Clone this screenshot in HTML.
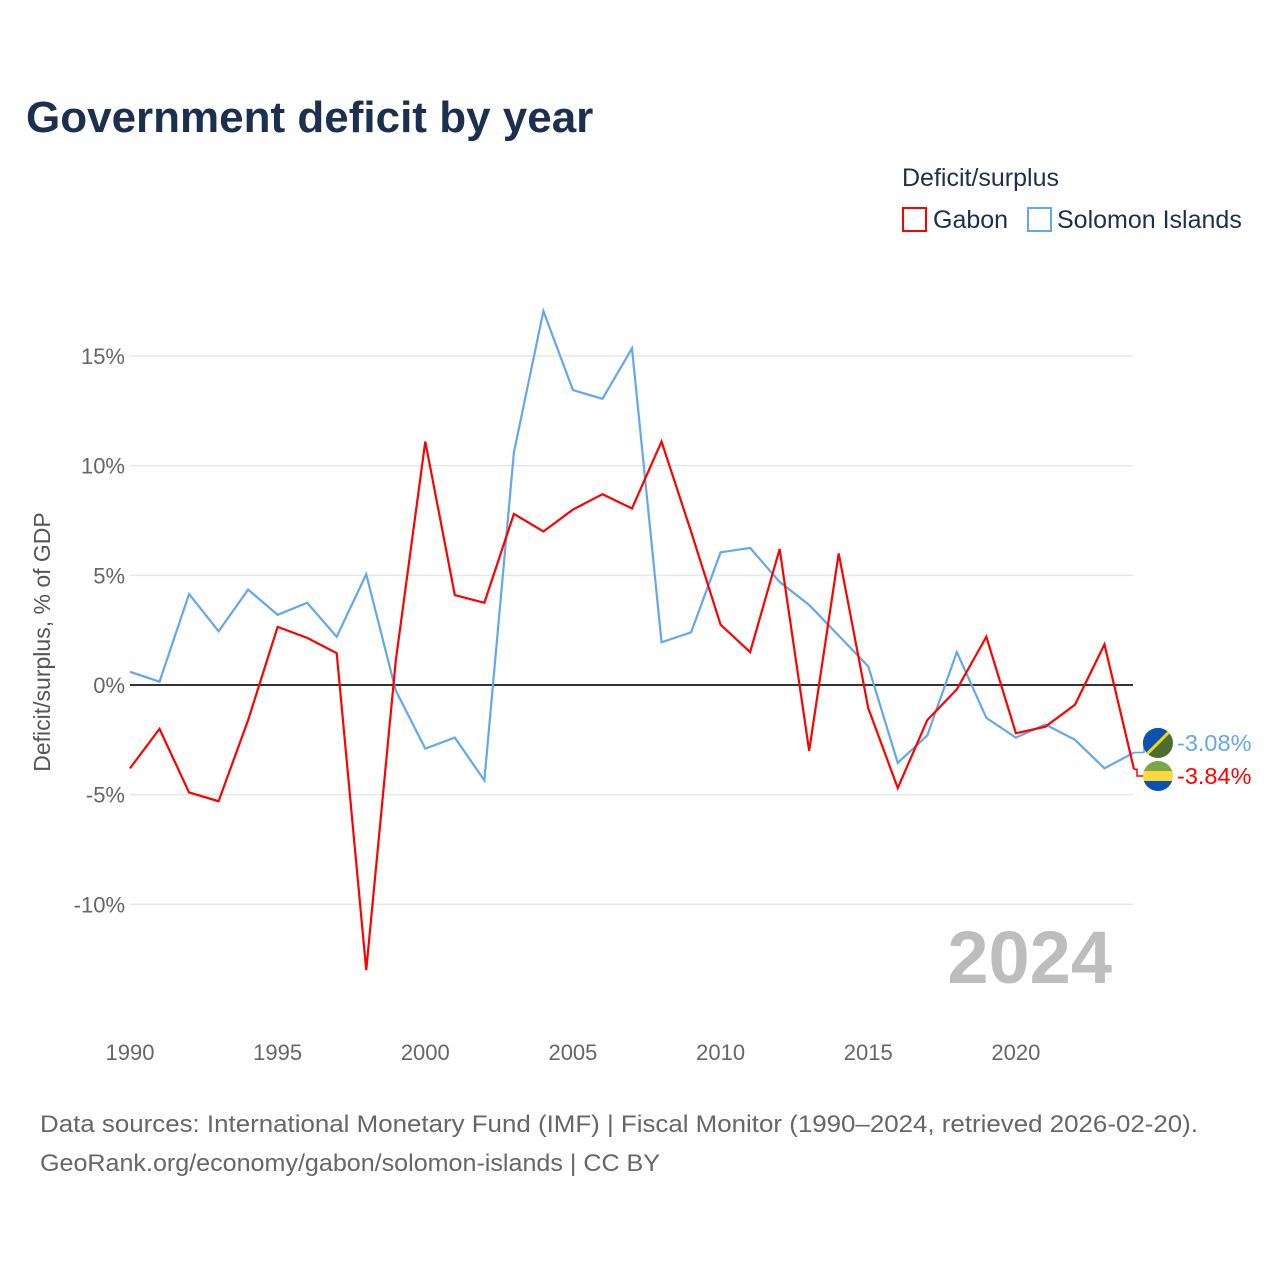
<!DOCTYPE html>
<html><head><meta charset="utf-8"><style>
body{margin:0;background:#fff;font-family:"Liberation Sans",sans-serif;}
#wrap{position:relative;width:1280px;height:1280px;overflow:hidden;}
</style></head><body>
<div id="wrap">
<svg id="chart" width="1280" height="1280" xmlns="http://www.w3.org/2000/svg">
<text x="26" y="132" font-size="44" font-weight="bold" fill="#1b2f4e">Government deficit by year</text>
<text x="902" y="186" font-size="25" fill="#1b2f4e">Deficit/surplus</text>
<g><rect x="903" y="208" width="23" height="23" fill="none" stroke="#ff0000" stroke-width="2"/><text x="933" y="228" font-size="25" fill="#1b2f4e">Gabon</text></g>
<g><rect x="1028" y="208" width="23" height="23" fill="none" stroke="#62a8ea" stroke-width="2"/><text x="1057" y="228" font-size="25" fill="#1b2f4e">Solomon Islands</text></g>
<g id="grid"></g>
<g id="xaxis"></g>
<g id="yaxis"></g>
<text x="1112" y="983" font-size="74" font-weight="bold" fill="#bdbdbd" text-anchor="end">2024</text>
<text transform="translate(50,642) rotate(-90)" font-size="23" fill="#555" text-anchor="middle">Deficit/surplus, % of GDP</text>
<g id="series"></g>
<text x="40" y="1132" font-size="24" fill="#666" textLength="1158" lengthAdjust="spacingAndGlyphs">Data sources: International Monetary Fund (IMF) | Fiscal Monitor (1990–2024, retrieved 2026-02-20).</text>
<text x="40" y="1171" font-size="24" fill="#666" textLength="620" lengthAdjust="spacingAndGlyphs">GeoRank.org/economy/gabon/solomon-islands | CC BY</text>
</svg>
</div>
<script>
const years=[1990,1991,1992,1993,1994,1995,1996,1997,1998,1999,2000,2001,2002,2003,2004,2005,2006,2007,2008,2009,2010,2011,2012,2013,2014,2015,2016,2017,2018,2019,2020,2021,2022,2023,2024];
const gabon=[-3.8,-2.0,-4.9,-5.3,-1.6,2.65,2.15,1.45,-13.0,1.1,11.1,4.1,3.75,7.8,7.0,8.0,8.7,8.05,11.1,7.0,2.75,1.5,6.2,-3.0,6.0,-1.05,-4.7,-1.6,-0.2,2.2,-2.2,-1.9,-0.9,1.85,-3.84];
const solomon=[0.6,0.15,4.15,2.45,4.35,3.2,3.75,2.2,5.05,-0.25,-2.9,-2.4,-4.35,10.6,17.05,13.45,13.05,15.35,1.95,2.4,6.05,6.25,4.7,3.65,2.25,0.85,-3.55,-2.3,1.5,-1.5,-2.4,-1.8,-2.5,-3.8,-3.08];
const yTicks=[-10,-5,0,5,10,15];
const xTicks=[1990,1995,2000,2005,2010,2015,2020];
const NS="http://www.w3.org/2000/svg";
const X=v=>130+(v-1990)*(1004/34);
const Y=v=>685-v*21.93;
function mk(tag,attrs,parent){const e=document.createElementNS(NS,tag);for(const k in attrs)e.setAttribute(k,attrs[k]);parent.appendChild(e);return e;}
const grid=document.getElementById('grid'),ya=document.getElementById('yaxis'),xa=document.getElementById('xaxis'),ser=document.getElementById('series');
yTicks.forEach(t=>{
  const l=mk('line',{x1:130,x2:1133,y1:Y(t),y2:Y(t),stroke:t===0?'#333':'#e8e8e8','stroke-width':t===0?2:1.5},grid);
  
  
  const tx=mk('text',{x:125,y:Y(t)+8,'font-size':22,fill:'#666','text-anchor':'end'},ya);
  tx.textContent=t+'%';
  
  
});
xTicks.forEach(t=>{
  const tx=mk('text',{x:X(t),y:1060,'font-size':22,fill:'#666','text-anchor':'middle'},xa);
  tx.textContent=t;
  
  
});
function line(vals,color,name){
  const p=mk('polyline',{points:vals.map((v,i)=>X(years[i])+','+Y(v)).join(' '),fill:'none',stroke:color,'stroke-width':2.2,'stroke-linejoin':'miter'},ser);
  
  
}
line(solomon,'#62a8ea','line-solomon-islands');
line(gabon,'#ff0000','line-gabon');
const last=years.length-1;
const xe=X(years[last]);
const sy=743, gy=776;
const c1=mk('polyline',{points:`${xe},${Y(solomon[last])} ${xe+10},${Y(solomon[last])} ${xe+10},${sy} ${xe+14},${sy}`,fill:'none',stroke:'#62a8ea','stroke-width':1.5},ser);


const c2=mk('polyline',{points:`${xe},${Y(gabon[last])} ${xe+3},${Y(gabon[last])} ${xe+3},${gy} ${xe+14},${gy}`,fill:'none',stroke:'#ff0000','stroke-width':1.5},ser);


const fs=mk('g',{},ser);


const cps=mk('clipPath',{id:'cs'},fs);mk('circle',{cx:1158,cy:sy,r:15},cps);
const gs=mk('g',{'clip-path':'url(#cs)'},fs);
mk('rect',{x:1143,y:sy-15,width:30,height:30,fill:'#4b6e30'},gs);
mk('polygon',{points:`1143,${sy-15} 1173,${sy-15} 1143,${sy+15}`,fill:'#0d52b0'},gs);
mk('line',{x1:1173,y1:sy-15,x2:1143,y2:sy+15,stroke:'#fcd116','stroke-width':3},gs);
const fg=mk('g',{},ser);


const cp=mk('clipPath',{id:'cg'},fg);mk('circle',{cx:1158,cy:gy,r:15},cp);
const gg=mk('g',{'clip-path':'url(#cg)'},fg);
mk('rect',{x:1143,y:gy-15,width:30,height:10,fill:'#78a848'},gg);
mk('rect',{x:1143,y:gy-5,width:30,height:10,fill:'#fcd83e'},gg);
mk('rect',{x:1143,y:gy+5,width:30,height:10,fill:'#0b50b4'},gg);
const ls=mk('text',{x:1177,y:sy+8,'font-size':23.5,fill:'#62a8ea'},ser);
ls.textContent=solomon[last].toFixed(2)+'%';


const lg=mk('text',{x:1177,y:gy+8,'font-size':23.5,fill:'#ff0000'},ser);
lg.textContent=gabon[last].toFixed(2)+'%';


</script>
</body></html>
